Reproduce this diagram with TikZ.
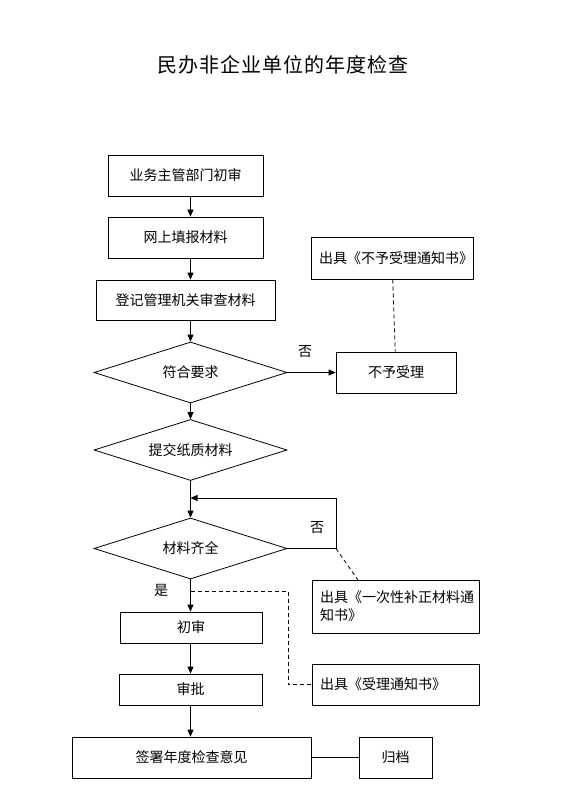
\documentclass[tikz,border=0pt]{standalone}
\usepackage{fontspec}
\setmainfont{Noto Sans CJK SC}
\usetikzlibrary{shapes.geometric,arrows.meta}
\begin{document}
\begin{tikzpicture}[x=1pt,y=-1pt,
  every node/.style={font=\fontsize{14}{18}\selectfont},
  box/.style={draw, rectangle, inner sep=0pt, line width=0.8pt},
  lbox/.style={box, align=left, inner xsep=8pt},
  dia/.style={draw, diamond, aspect=3.2, inner sep=0pt, minimum width=193pt, minimum height=61pt, line width=0.8pt},
  arr/.style={-{Triangle[length=7pt,width=6pt]}, line width=0.8pt},
  ln/.style={line width=0.8pt},
  dsh/.style={dashed, dash pattern=on 4pt off 3pt, line width=0.8pt}]
\useasboundingbox (0,0) rectangle (575,794);
\node[font=\fontsize{20}{24}\selectfont\addfontfeatures{LetterSpace=5}] (title) at (283,65) {民办非企业单位的年度检查};

\node[box, minimum width=155pt, minimum height=41pt] (b1) at (185.5,175.5) {业务主管部门初审};
\node[box, minimum width=155pt, minimum height=41pt] (b2) at (185.5,237.5) {网上填报材料};
\node[box, minimum width=179pt, minimum height=40pt] (b3) at (185.5,300) {登记管理机关审查材料};
\node[dia] (d1) at (190.5,372.5) {符合要求};
\node[box, minimum width=120pt, minimum height=41pt] (nr) at (396,372.5) {不予受理};
\node[lbox, minimum width=162pt, minimum height=42pt, text width=146pt] (nn) at (392,258) {出具《不予受理通知书》};
\node[dia] (d2) at (190.5,450) {提交纸质材料};
\node[dia] (d3) at (190.5,548.5) {材料齐全};
\node[lbox, minimum width=167pt, minimum height=53pt, text width=151pt] (bz) at (395.5,606.5) {出具《一次性补正材料通\\知书》};
\node[box, minimum width=142pt, minimum height=31pt] (cs) at (191,627.5) {初审};
\node[box, minimum width=143pt, minimum height=31pt] (sp) at (190.5,689.5) {审批};
\node[lbox, minimum width=167pt, minimum height=41pt, text width=151pt] (sl) at (395.5,684.5) {出具《受理通知书》};
\node[box, minimum width=239pt, minimum height=41pt] (qs) at (191.5,757.5) {签署年度检查意见};
\node[box, minimum width=73pt, minimum height=41pt] (gd) at (395.5,757.5) {归档};

\node (no1) at (305,352) {否};
\node (no2) at (317,528) {否};
\node (yes) at (161,590) {是};

\coordinate (loopB) at (336,548.5);
\coordinate (loopA) at (336,498);
\coordinate (join) at (190.5,498);
\coordinate (bzt) at (358,580);
\coordinate (ys) at (190.5,591);
\coordinate (yr) at (288,591);
\coordinate (yd) at (288,684.5);

\draw[arr] (b1.south -| d1.center) -- (b2.north -| d1.center);
\draw[arr] (b2.south -| d1.center) -- (b3.north -| d1.center);
\draw[arr] (b3.south -| d1.center) -- (d1.north);
\draw[arr] (d1.east) -- (nr.west);
\draw[arr] (d1.south) -- (d2.north);
\draw[arr] (d2.south) -- (d3.north);
\draw[dsh] (nn) -- (nr);
\draw[arr] (d3.east) -- (loopB) -- (loopA) -- (join);
\draw[dsh] (loopB) -- (bzt);
\draw[arr] (d3.south) -- (cs.north -| d3.south);
\draw[dsh] (ys) -- (yr) -- (yd) -- (sl.west);
\draw[arr] (cs.south -| d3.south) -- (sp.north -| d3.south);
\draw[arr] (sp.south -| d3.south) -- (qs.north -| d3.south);
\draw[ln] (qs.east) -- (gd.west);
\end{tikzpicture}
\end{document}
